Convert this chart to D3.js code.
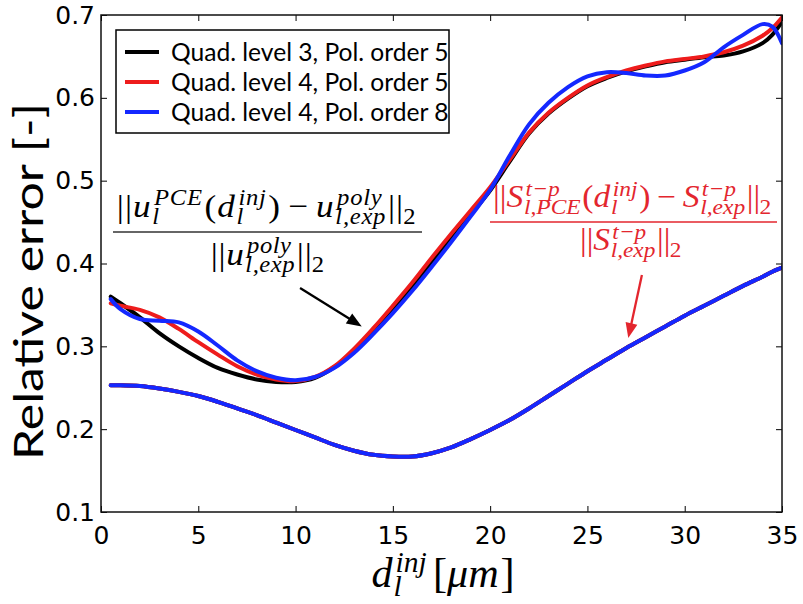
<!DOCTYPE html>
<html><head><meta charset="utf-8">
<script src="https://cdn.jsdelivr.net/npm/d3@7"></script>
<style>body{margin:0;background:#fff} svg{display:block}</style>
</head><body>
<script>
// ---------------- data ----------------
const xValues = [0.5,1,2,3,4,5,6,7,8,9,10,11,12,13,14,15,16,17,18,19,20,21,22,23,24,25,26,27,28,29,30,31,32,33,34,34.5,35];
const upperBlack = [0.360,0.352,0.335,0.316,0.300,0.286,0.274,0.266,0.260,0.257,0.257,0.262,0.275,0.293,0.318,0.345,0.372,0.402,0.431,0.459,0.488,0.523,0.557,0.581,0.599,0.614,0.624,0.632,0.638,0.643,0.646,0.649,0.651,0.656,0.666,0.676,0.692];
const upperRed   = [0.352,0.349,0.344,0.335,0.321,0.305,0.290,0.276,0.266,0.260,0.258,0.263,0.276,0.297,0.322,0.349,0.377,0.407,0.436,0.464,0.492,0.525,0.558,0.582,0.600,0.615,0.625,0.633,0.639,0.644,0.647,0.650,0.655,0.663,0.675,0.684,0.697];
const upperBlue  = [0.357,0.345,0.333,0.331,0.329,0.318,0.301,0.283,0.270,0.262,0.259,0.263,0.274,0.292,0.315,0.340,0.367,0.396,0.426,0.457,0.489,0.530,0.568,0.594,0.613,0.626,0.631,0.630,0.627,0.627,0.633,0.643,0.661,0.676,0.689,0.686,0.666];
const lowerBlack = [0.253,0.253,0.252,0.249,0.245,0.240,0.233,0.225,0.217,0.208,0.199,0.190,0.181,0.174,0.169,0.167,0.167,0.171,0.178,0.188,0.199,0.211,0.225,0.240,0.255,0.270,0.284,0.298,0.311,0.324,0.337,0.349,0.361,0.373,0.384,0.390,0.395];
const lowerRed   = [0.253,0.253,0.252,0.249,0.245,0.240,0.233,0.225,0.217,0.208,0.199,0.190,0.181,0.174,0.169,0.167,0.167,0.171,0.178,0.188,0.199,0.211,0.225,0.240,0.255,0.270,0.284,0.298,0.311,0.324,0.337,0.349,0.361,0.373,0.384,0.390,0.395];
const lowerBlue  = [0.253,0.253,0.252,0.249,0.245,0.240,0.233,0.225,0.217,0.208,0.199,0.190,0.181,0.174,0.169,0.167,0.167,0.171,0.178,0.188,0.199,0.211,0.225,0.240,0.255,0.270,0.284,0.298,0.311,0.324,0.337,0.349,0.361,0.373,0.384,0.390,0.395];
const legendLabels = ["Quad. level 3, Pol. order 5","Quad. level 4, Pol. order 5","Quad. level 4, Pol. order 8"];
const seriesColors = ["#000000","#ee1c1c","#1428ff"];
const xTicks = [0,5,10,15,20,25,30,35];
const yTicks = [0.1,0.2,0.3,0.4,0.5,0.6,0.7];
const yLabel = "Relative error [-]";
const annColor = "#e3262e";

// ---------------- layout ----------------
const W = 803, H = 604;
const x = d3.scaleLinear().domain([0,35]).range([101,782]);
const y = d3.scaleLinear().domain([0.1,0.7]).range([512,15]);

const svg = d3.select("body").append("svg").attr("width",W).attr("height",H);
svg.append("rect").attr("width",W).attr("height",H).attr("fill","#fff");

svg.append("clipPath").attr("id","clip").append("rect")
  .attr("x",x(0)).attr("y",y(0.7)).attr("width",x(35)-x(0)).attr("height",y(0.1)-y(0.7));

const tickFont = "'DejaVu Sans', sans-serif";
function styleAxis(g){ g.select(".domain").remove(); g.selectAll("line").attr("stroke","#000").attr("stroke-width",1); g.selectAll("text").attr("font-family",tickFont).attr("font-size",25).attr("fill","#000"); }

svg.append("g").attr("transform",`translate(0,${y(0.1)})`)
  .call(d3.axisBottom(x).tickValues(xTicks).tickSizeInner(-6).tickSizeOuter(0).tickPadding(14).tickFormat(d3.format("d"))).call(styleAxis);
svg.append("g").attr("transform",`translate(0,${y(0.7)})`)
  .call(d3.axisTop(x).tickValues(xTicks).tickSizeInner(-6).tickSizeOuter(0).tickFormat("")).call(styleAxis);
svg.append("g").attr("transform",`translate(${x(0)},0)`)
  .call(d3.axisLeft(y).tickValues(yTicks).tickSizeInner(-6).tickSizeOuter(0).tickPadding(6).tickFormat(d3.format(".1f"))).call(styleAxis);
svg.append("g").attr("transform",`translate(${x(35)},0)`)
  .call(d3.axisRight(y).tickValues(yTicks).tickSizeInner(-6).tickSizeOuter(0).tickFormat("")).call(styleAxis);

// lines
const line = d3.line().x((d,i)=>x(xValues[i])).y(d=>y(d)).curve(d3.curveCatmullRom.alpha(0.5));
const plot = svg.append("g").attr("clip-path","url(#clip)");
const series = [
  [lowerBlack,0],[lowerRed,1],[lowerBlue,2],
  [upperBlack,0],[upperRed,1],[upperBlue,2]
];
series.forEach(([vals,ci])=>{
  plot.append("path").datum(vals).attr("d",line).attr("fill","none")
    .attr("stroke",seriesColors[ci]).attr("stroke-width",4).attr("stroke-linejoin","round").attr("stroke-linecap","round");
});

// frame
svg.append("rect").attr("x",x(0)).attr("y",y(0.7)).attr("width",x(35)-x(0)).attr("height",y(0.1)-y(0.7))
  .attr("fill","none").attr("stroke","#111").attr("stroke-width",1.5);

// legend
const legFont = "Lato, 'Open Sans', sans-serif";
const leg = svg.append("g");
leg.append("rect").attr("x",116).attr("y",30).attr("width",333).attr("height",103)
  .attr("fill","#fff").attr("stroke","#000").attr("stroke-width",1.5);
legendLabels.forEach((lab,i)=>{
  const cy = 52 + i*30;
  leg.append("line").attr("x1",125).attr("x2",159).attr("y1",cy).attr("y2",cy)
    .attr("stroke",seriesColors[i]).attr("stroke-width",4);
  leg.append("text").attr("x",171).attr("y",cy+8.5).attr("font-family",legFont).attr("font-size",24.6)
    .attr("fill","#000").text(lab);
});

// y label
svg.append("text").attr("transform",`translate(43,${(103+460)/2}) rotate(-90)`)
  .attr("text-anchor","middle").attr("font-family",legFont).attr("font-size",40)
  .attr("textLength",357).attr("lengthAdjust","spacingAndGlyphs").attr("fill","#000").text(yLabel);

// math layout helper
const mathFont = "'Liberation Serif', 'DejaVu Serif', serif";
function mathLayout(g, items, size, color, ls){
  let cx = 0; const sc = 0.7*size;
  items.forEach(it=>{
    if (it.gap !== undefined){ cx += it.gap*size; return; }
    if (it.t !== undefined){
      const t = g.append("text").attr("x",cx).attr("y",0).attr("font-size",size).attr("letter-spacing",ls)
        .attr("font-style", it.it ? "italic" : "normal").attr("font-family",mathFont).attr("fill",color).text(it.t);
      cx += t.node().getComputedTextLength() + (it.it ? 0.04*size : 0);
    } else {
      let w = 0;
      if (it.sup){ const t = g.append("text").attr("x",cx+0.03*size).attr("y",-0.36*size).attr("font-size",sc).attr("letter-spacing",ls*0.7)
        .attr("font-style","italic").attr("font-family",mathFont).attr("fill",color).text(it.sup);
        w = Math.max(w,t.node().getComputedTextLength()+0.03*size); }
      if (it.sub){ const t = g.append("text").attr("x",cx-0.02*size).attr("y",0.22*size).attr("font-size",sc).attr("letter-spacing",ls*0.7)
        .attr("font-style", it.up ? "normal" : "italic").attr("font-family",mathFont).attr("fill",color).text(it.sub);
        w = Math.max(w,t.node().getComputedTextLength()-0.02*size); }
      cx += w + 0.05*size;
    }
  });
  return cx;
}
function glyphCount(items){
  return d3.sum(items, it => it.gap !== undefined ? 0 : (it.t !== undefined ? it.t.length : Math.max((it.sup||"").length,(it.sub||"").length)));
}
function fitMath(items, size, cxPx, baseline, targetW, color, sx){
  const g = svg.append("g");
  const w0 = mathLayout(g, items, size, color, 0);
  let s = sx;
  if (w0*s > targetW) s = targetW / w0;
  const ls = Math.max(0, (targetW/s - w0) / glyphCount(items));
  g.selectAll("*").remove();
  const w1 = mathLayout(g, items, size, color, ls);
  g.attr("transform",`translate(${cxPx - w1*s/2},${baseline}) scale(${s},1)`);
  return g;
}
const minus = [{gap:0.2},{t:"−"},{gap:0.2}];

// left formula (u)
const numU = [{t:"||"},{t:"u",it:1},{sup:"PCE",sub:"l"},{t:"("},{t:"d",it:1},{sup:"inj",sub:"l"},{t:")"},...minus,{t:"u",it:1},{sup:"poly",sub:"l,exp"},{t:"||"},{sub:"2",up:1}];
const denU = [{t:"||"},{t:"u",it:1},{sup:"poly",sub:"l,exp"},{t:"||"},{sub:"2",up:1}];
fitMath(numU, 32, 267.5, 217, 305, "#000", 1.1);
fitMath(denU, 32, 268.5, 265, 117, "#000", 1.1);
svg.append("line").attr("x1",113).attr("x2",422).attr("y1",232).attr("y2",232).attr("stroke","#333").attr("stroke-width",1.3);

// right formula (S)
const numS = [{t:"||"},{t:"S",it:1},{sup:"t−p",sub:"l,PCE"},{t:"("},{t:"d",it:1},{sup:"inj",sub:"l"},{t:")"},...minus,{t:"S",it:1},{sup:"t−p",sub:"l,exp"},{t:"||"},{sub:"2",up:1}];
const denS = [{t:"||"},{t:"S",it:1},{sup:"t−p",sub:"l,exp"},{t:"||"},{sub:"2",up:1}];
fitMath(numS, 31, 633, 207, 280, annColor, 1.1);
fitMath(denS, 31, 631.5, 250, 103, annColor, 1.1);
svg.append("line").attr("x1",490).attr("x2",777).attr("y1",222).attr("y2",222).attr("stroke",annColor).attr("stroke-width",1.3);

// x label
fitMath([{t:"d",it:1},{sup:"inj",sub:"l"},{gap:0.1},{t:"["},{t:"μm",it:1},{t:"]"}], 42, 443, 587, 143, "#000", 1.05);

// arrows (in data coordinates)
function arrow(x0,y0,x1,y1,color,lw,hl,hw){
  const X0=x(x0),Y0=y(y0),X1=x(x1),Y1=y(y1);
  const dx=X1-X0, dy=Y1-Y0, L=Math.hypot(dx,dy), ux=dx/L, uy=dy/L;
  const bx=X1-ux*hl, by=Y1-uy*hl;
  svg.append("line").attr("x1",X0).attr("y1",Y0).attr("x2",bx+ux*2).attr("y2",by+uy*2).attr("stroke",color).attr("stroke-width",lw);
  svg.append("path").attr("d",`M${X1},${Y1}L${bx-uy*hw/2},${by+ux*hw/2}L${bx+uy*hw/2},${by-ux*hw/2}Z`).attr("fill",color);
}
arrow(10.23,0.3705,13.4,0.324,"#000",2.3,15,12);
arrow(27.8,0.386,27.1,0.31,annColor,2.3,15,12);
</script>
</body></html>
